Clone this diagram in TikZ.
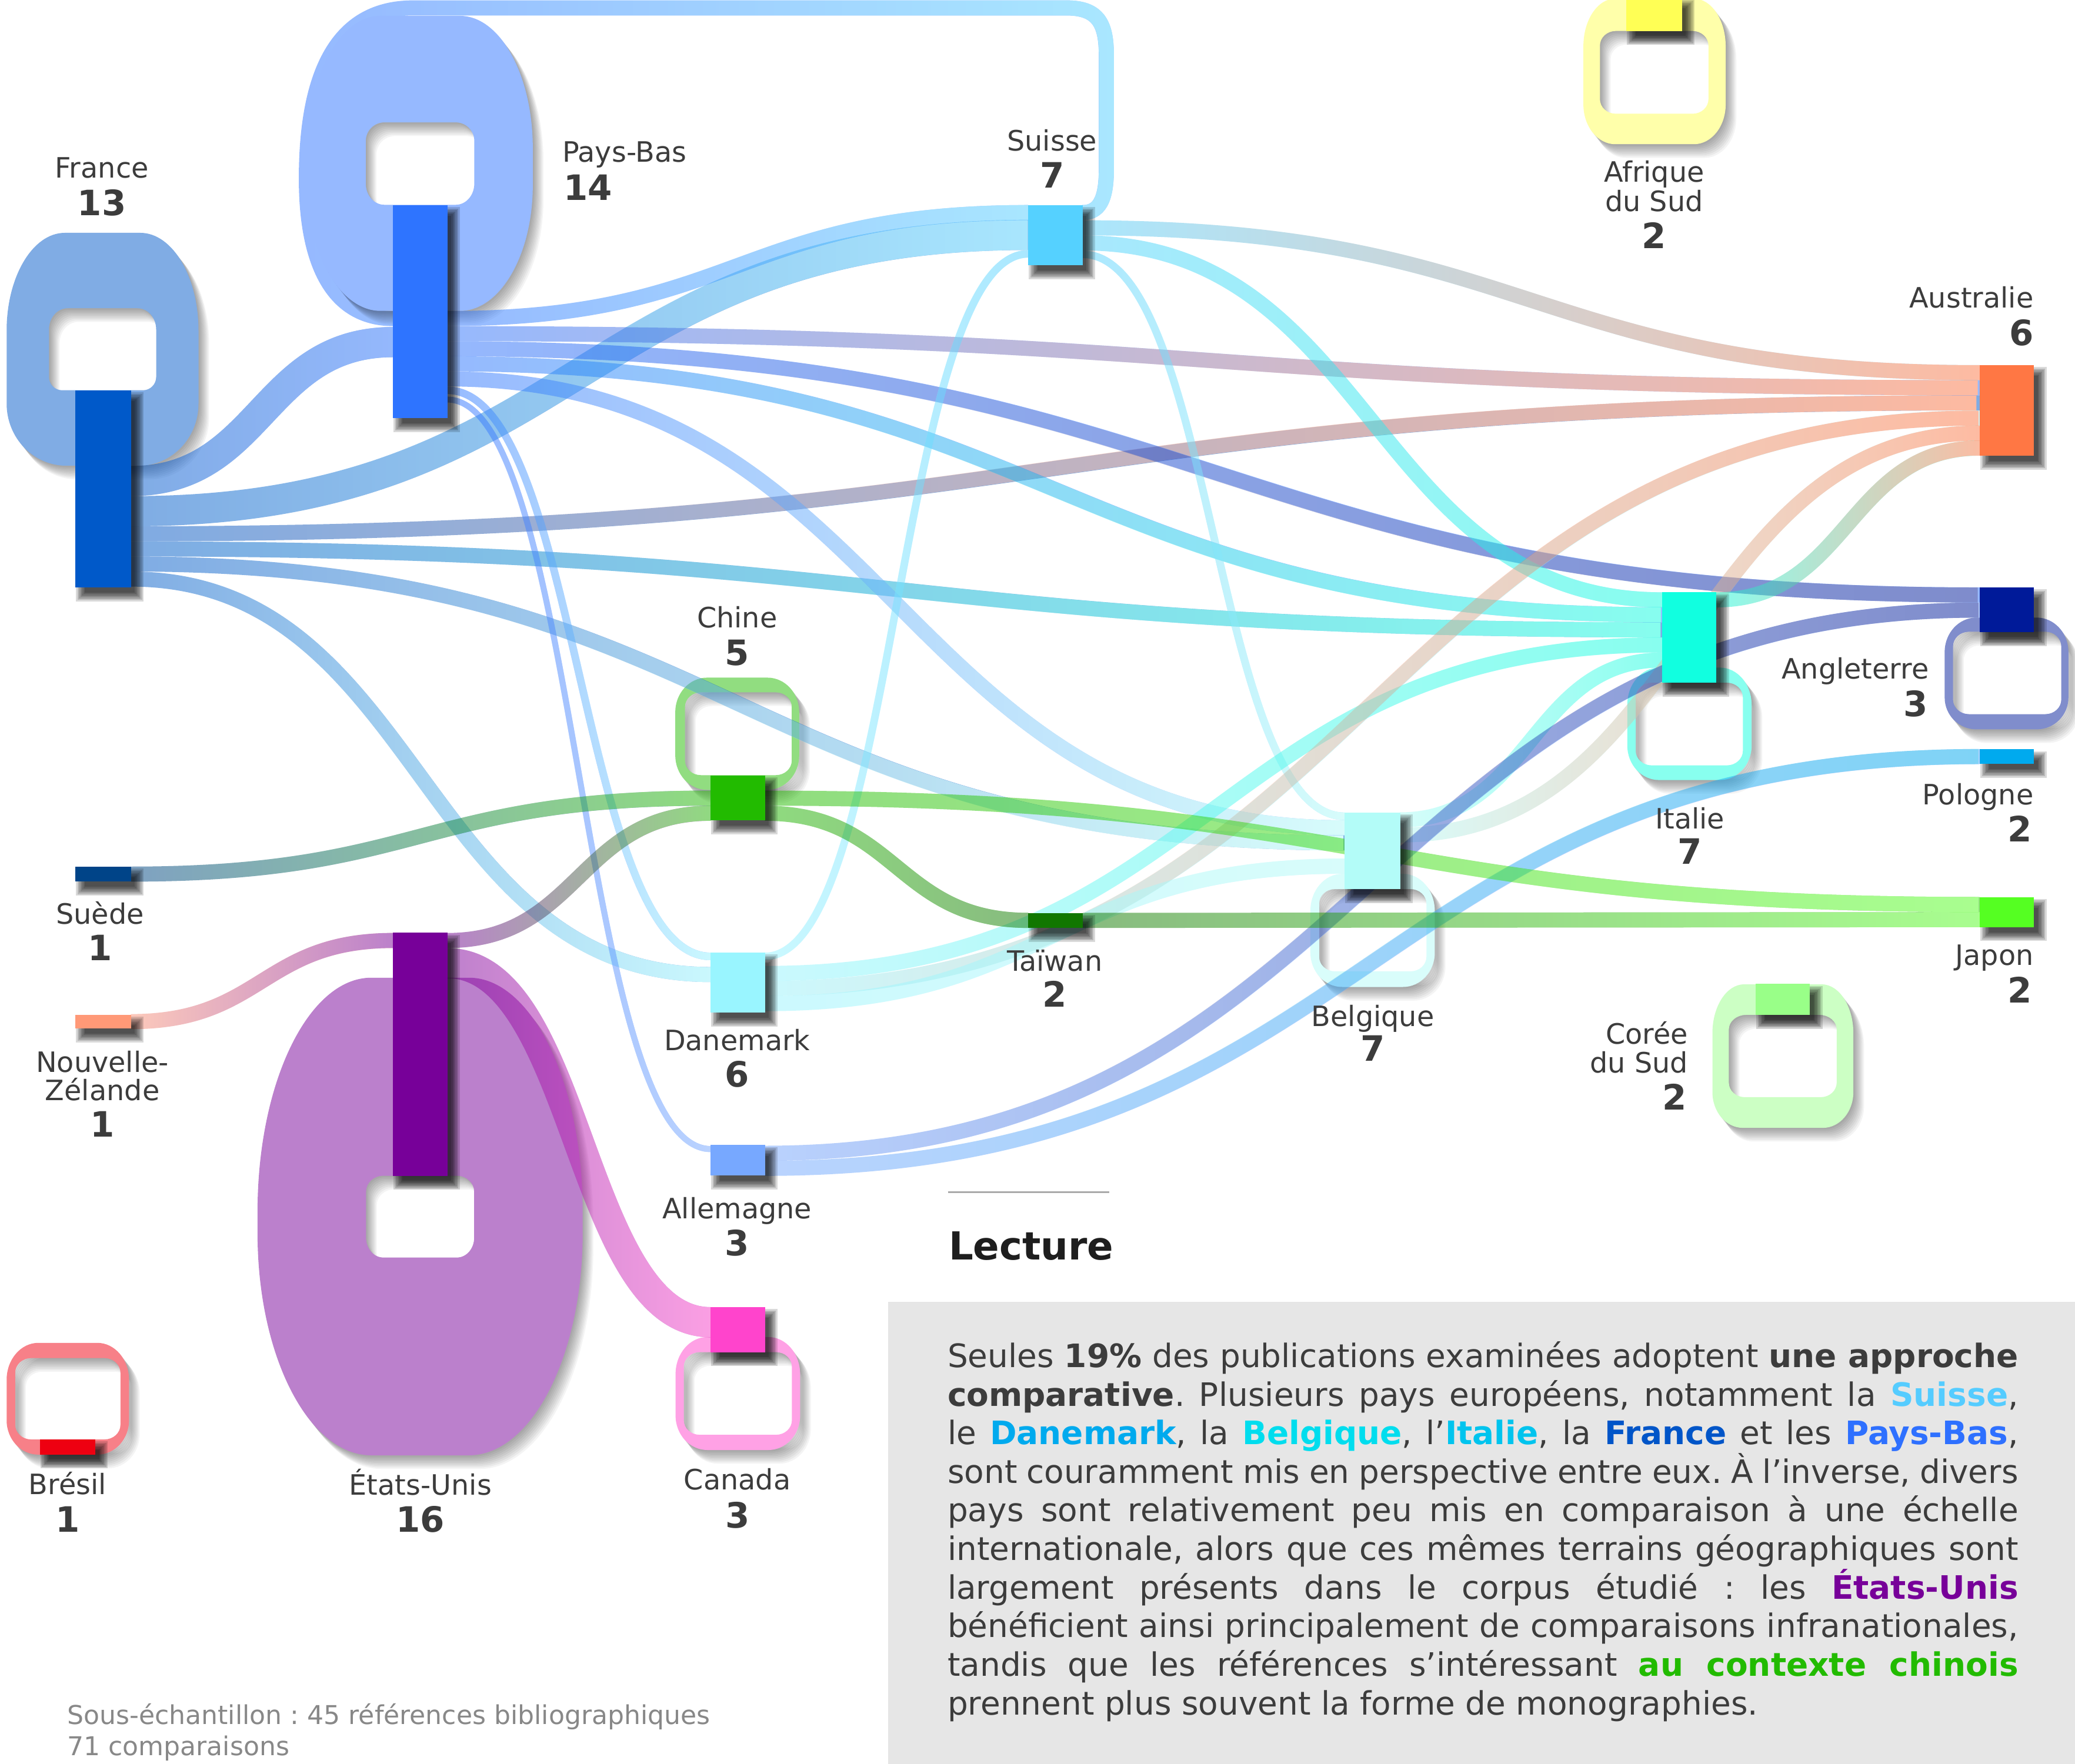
\documentclass[tikz,border=0pt]{standalone}
\usepackage{fontspec}
\setmainfont{DejaVu Sans}
\usetikzlibrary{fadings}
\tikzfading[name=fadeLR, left color=transparent!100, right color=transparent!0]
\definecolor{cFR}{HTML}{0059C9}
\definecolor{cPB}{HTML}{2E74FF}
\definecolor{cCH}{HTML}{55D1FF}
\definecolor{cZA}{HTML}{FFFF55}
\definecolor{cAU}{HTML}{FF7744}
\definecolor{cEN}{HTML}{001A99}
\definecolor{cPL}{HTML}{00AAEE}
\definecolor{cJP}{HTML}{55FF22}
\definecolor{cKR}{HTML}{99FF88}
\definecolor{cIT}{HTML}{11FFE0}
\definecolor{cBE}{HTML}{B3FCF8}
\definecolor{cCN}{HTML}{22BB00}
\definecolor{cTW}{HTML}{117700}
\definecolor{cDK}{HTML}{99F5FF}
\definecolor{cDE}{HTML}{77A8FF}
\definecolor{cSE}{HTML}{004488}
\definecolor{cNZ}{HTML}{FF9977}
\definecolor{cUS}{HTML}{770099}
\definecolor{cCA}{HTML}{FF44CC}
\definecolor{cBR}{HTML}{EE0011}
\definecolor{txt}{HTML}{3C3C3C}
\definecolor{boxgray}{HTML}{E6E6E6}
\definecolor{footgray}{HTML}{888888}
\definecolor{lecturec}{HTML}{1E1E1E}
\definecolor{rulegray}{HTML}{AAAAAA}
\definecolor{tCH}{HTML}{55CCFF}
\definecolor{tDK}{HTML}{00AAEE}
\definecolor{tBE}{HTML}{00DDEE}
\definecolor{tIT}{HTML}{00C4EE}
\definecolor{tFR}{HTML}{0055C8}
\definecolor{tPB}{HTML}{2E70FF}
\definecolor{tUS}{HTML}{770099}
\definecolor{tCN}{HTML}{22BB00}
\newlength\PW
\setlength\PW{404.6pt}
% rounded rectangle path with elliptic corners: x1 y1 x2 y2 rxTop ryTop rxBottom ryBottom
\newcommand\rrp[8]{({#1+#5},#2) -- ({#3-#5},#2) .. controls ({#3-0.448*#5},#2) and (#3,{#2+0.448*#6}) .. (#3,{#2+#6}) -- (#3,{#4-#8}) .. controls (#3,{#4-0.448*#8}) and ({#3-0.448*#7},#4) .. ({#3-#7},#4) -- ({#1+#7},#4) .. controls ({#1+0.448*#7},#4) and (#1,{#4-0.448*#8}) .. (#1,{#4-#8}) -- (#1,{#2+#6}) .. controls (#1,{#2+0.448*#6}) and ({#1+0.448*#5},#2) .. ({#1+#5},#2) -- cycle}
% self-loop ring with soft shadow
\newcommand\ringx[3]{%
  \foreach \s in {1,...,9}{\fill[black, fill opacity=0.045, even odd rule, shift={({0.9*\s},{1.15*\s})}] #2 #3;}
  \fill[#1!50, even odd rule] #2 #3;}
% sankey link: colA colB width x1 y1 x2 y2
\newcommand\lk[7]{%
  \pgfmathsetmacro\xm{(#4+#6)/2}%
  \begin{scope}[transparency group, opacity=0.5]
    \draw[line width=#3*0.5pt, draw=#1] (#4,#5) .. controls (\xm,#5) and (\xm,#7) .. (#6,#7);
    \draw[line width=#3*0.5pt, draw=#2, path fading=fadeLR] (#4,#5) .. controls (\xm,#5) and (\xm,#7) .. (#6,#7) (#4,{#5-40}) (#4,{#5+40}) (#6,{#7-40}) (#6,{#7+40});
  \end{scope}}
\newcommand\lkp[4]{%
  \begin{scope}[transparency group, opacity=0.5]
    \draw[line width=#3*0.5pt, draw=#1] #4;
    \draw[line width=#3*0.5pt, draw=#2, path fading=fadeLR] #4;
  \end{scope}}
% node rectangle with soft shadow: name colour x1 y1 x2 y2
\newcommand\nd[6]{%
  \foreach \s in {0,...,6}{\fill[black, fill opacity=0.15] ({#3+0.5+1.1*\s},{#4+1.5+1.1*\s}) rectangle ({#5+9.5-1.1*\s},{#6+10.5-1.1*\s});}
  \node[inner sep=0pt, outer sep=0pt, fill=#2, minimum width={(#5-#3)*0.5pt}, minimum height={(#6-#4)*0.5pt}] (#1) at ({(#3+#5)/2},{(#4+#6)/2}) {};}
\tikzset{
  lab/.style={inner sep=0pt, font=\fontsize{10.6}{12}\selectfont, text=txt},
  num/.style={inner sep=0pt, font=\fontsize{13.2}{15}\selectfont\bfseries, text=txt},
  para/.style={inner sep=0pt, anchor=base west, font=\fontsize{12.2}{14.6}\selectfont\frenchspacing, text=txt},
  foot/.style={inner sep=0pt, anchor=base west, font=\fontsize{9.8}{11}\selectfont\frenchspacing, text=footgray}
}
\begin{document}
\begin{tikzpicture}[x=0.5pt, y=-0.5pt]
\useasboundingbox (0,0) rectangle (1568,1333.33);
\fill[white] (0,0) rectangle (1568,1333.33);
% text box
\fill[boxgray] (671,983.8) rectangle (1568,1333.33);

% Pays-Bas -- Suisse link going round the Pays-Bas loop (under the loop)
\lkp{cPB}{cCH}{11.4}{(297,240.8) .. controls (255,240.8) and (231.5,205) .. (231.5,135) .. controls (231.5,50) and (258,6) .. (312,6) -- (806,6) .. controls (830,6) and (836,18) .. (836,42) -- (836,128) .. controls (836,152) and (830,160.7) .. (818,160.7)}

% ---------- self-loop rings ----------
\ringx{cFR}{\rrp{5}{176}{150}{352}{44}{74}{45}{47}}{\rrp{37}{233}{118}{295}{14}{16}{10}{10}}
\ringx{cPB}{\rrp{232.6}{12}{402.6}{235}{55}{100}{55}{95}}{\rrp{276.4}{92.5}{358.4}{154.8}{14}{14}{14}{16}}
\ringx{cZA}{\rrp{1196.5}{-1}{1304}{109}{24}{36}{24}{30}}{\rrp{1209}{23.4}{1291}{86}{12}{11}{12}{11}}
\ringx{cEN}{\rrp{1469.5}{466.8}{1563}{551.3}{24}{26}{24}{24}}{\rrp{1475.8}{477.5}{1557.6}{539.8}{12}{11}{12}{11}}
\ringx{cIT}{\rrp{1229.7}{504.6}{1323.6}{589.6}{24}{28}{24}{26}}{\rrp{1236}{516}{1317}{578.5}{12}{11}{12}{11}}
\ringx{cBE}{\rrp{990.2}{660.5}{1084.2}{746}{24}{28}{24}{26}}{\rrp{996.8}{672}{1077.9}{734.2}{12}{11}{12}{11}}
\ringx{cCN}{\rrp{510.3}{512.2}{603.9}{597}{24}{26}{24}{26}}{\rrp{517.6}{523.3}{598.3}{585.9}{12}{11}{12}{11}}
\ringx{cKR}{\rrp{1294}{744}{1400.5}{852.5}{24}{37}{23}{27}}{\rrp{1306.4}{767.1}{1387.9}{829.3}{13}{11}{12}{11}}
\ringx{cUS}{\rrp{194.6}{739}{440.3}{1100}{86}{177}{86}{168}}{\rrp{276.6}{888.7}{358.3}{950.5}{13}{12}{13}{15}}
\ringx{cCA}{\rrp{510.5}{1010.6}{604.6}{1096}{24}{28}{24}{26}}{\rrp{516.7}{1022}{598.4}{1084.5}{12}{11}{12}{11}}
\ringx{cBR}{\rrp{5}{1015}{97.5}{1099.5}{24}{28}{24}{26}}{\rrp{11.5}{1026.5}{91}{1088}{12}{11}{12}{11}}

% ---------- links ----------
\lk{cFR}{cPB}{22.8}{99}{363.6}{297}{258.6}
\lk{cFR}{cCH}{22.8}{99}{386.4}{777}{177.6}
\lk{cFR}{cAU}{11.4}{99}{403.5}{1496}{304.5}
\lk{cFR}{cIT}{11.4}{99}{414.9}{1256}{476.1}
\lk{cFR}{cBE}{11.4}{99}{426.3}{1016}{637.1}
\lk{cFR}{cDK}{11.4}{99}{437.7}{537}{736.6}
\lk{cPB}{cCH}{11.4}{338}{240.8}{777}{160.7}
\lk{cPB}{cAU}{11.4}{338}{252.2}{1496}{293.1}
\lk{cPB}{cEN}{11.4}{338}{263.6}{1496}{449.7}
\lk{cPB}{cIT}{11.4}{338}{275}{1256}{464.7}
\lk{cPB}{cBE}{11.4}{338}{286.4}{1016}{625.7}
\lk{cPB}{cDK}{5.7}{338}{295}{537}{722.9}
\lk{cPB}{cDE}{4.5}{338}{302}{537}{868.5}
\lk{cDK}{cCH}{5.7}{578}{722.9}{777}{191.9}
\lk{cCH}{cAU}{11.4}{818}{172.2}{1496}{281.7}
\lk{cCH}{cIT}{11.4}{818}{183.6}{1256}{453.4}
\lk{cCH}{cBE}{5.7}{818}{192.2}{1016}{617}
\lk{cDK}{cIT}{11.4}{578}{735.8}{1256}{487.5}
\lk{cDK}{cAU}{11.4}{578}{747.2}{1496}{315.9}
\lk{cDK}{cBE}{11.4}{578}{758.6}{1016}{654.7}
\lk{cBE}{cIT}{11.4}{1058}{619.7}{1256}{498.9}
\lk{cBE}{cAU}{11.4}{1058}{631.1}{1496}{327.3}
\lk{cIT}{cAU}{11.4}{1297}{453.4}{1496}{338.7}
\lk{cDE}{cEN}{11.4}{578}{871.7}{1496}{461.1}
\lk{cDE}{cPL}{11.4}{578}{883.1}{1496}{571.9}
\lk{cSE}{cCN}{11.4}{99}{660.7}{537}{603.3}
\lk{cUS}{cCN}{11.4}{338}{710.9}{537}{614.7}
\lk{cCN}{cJP}{11.4}{578}{603.3}{1496}{683.7}
\lk{cCN}{cTW}{11.4}{578}{614.7}{777}{695.7}
\lk{cTW}{cJP}{11.4}{818}{695.7}{1496}{695.1}
\lk{cNZ}{cUS}{11.4}{99}{772.2}{297}{710.9}
\lk{cUS}{cCA}{22.8}{338}{728}{537}{999.4}

% ---------- country nodes ----------
\nd{fr}{cFR}{57}{295}{99}{444}
\nd{pb}{cPB}{297}{155}{338}{316}
\nd{ch}{cCH}{777}{155}{818}{200.5}
\nd{za}{cZA}{1229}{-2}{1271}{23.4}
\nd{au}{cAU}{1496}{276}{1537}{344.4}
\nd{en}{cEN}{1496}{444}{1537}{478}
\nd{pl}{cPL}{1496}{566.4}{1537}{577.4}
\nd{jp}{cJP}{1496}{678}{1537}{700.8}
\nd{kr}{cKR}{1326.7}{743.7}{1367.7}{767.1}
\nd{it}{cIT}{1256}{447.7}{1297}{516}
\nd{be}{cBE}{1016}{614}{1058}{672}
\nd{cn}{cCN}{537}{586}{578}{620}
\nd{tw}{cTW}{777}{690}{818}{701.4}
\nd{dk}{cDK}{537}{720}{578}{765.5}
\nd{de}{cDE}{537}{865.5}{578}{888.5}
\nd{se}{cSE}{57}{655}{99}{666.4}
\nd{nz}{cNZ}{57}{767}{99}{777.4}
\nd{us}{cUS}{297}{705}{338}{888.7}
\nd{ca}{cCA}{537}{988}{578}{1022}
\nd{br}{cBR}{30}{1088}{72}{1099.4}

% ---------- labels ----------
\node[lab, anchor=base] (lFR) at (77,134.4) {France};
\node[num, anchor=base] (nFR) at (77,163) {13};
\node[lab, anchor=base west] (lPB) at (424.5,122.6) {Pays-Bas};
\node[num, anchor=base west] (nPB) at (425.5,151.2) {14};
\node[lab, anchor=base] (lCH) at (795,114) {Suisse};
\node[num, anchor=base] (nCH) at (795,142) {7};
\node[lab, anchor=base] (lZA1) at (1250,137.5) {Afrique};
\node[lab, anchor=base] (lZA2) at (1250,160) {du Sud};
\node[num, anchor=base] (nZA) at (1250,188) {2};
\node[lab, anchor=base east] (lAU) at (1537,232.8) {Australie};
\node[num, anchor=base east] (nAU) at (1537,261) {6};
\node[lab, anchor=base east] (lEN) at (1458,513) {Angleterre};
\node[num, anchor=base east] (nEN) at (1457,541.7) {3};
\node[lab, anchor=base east] (lPL) at (1537,608.4) {Pologne};
\node[num, anchor=base east] (nPL) at (1536,636.4) {2};
\node[lab, anchor=base east] (lJP) at (1537,729.6) {Japon};
\node[num, anchor=base east] (nJP) at (1536,758) {2};
\node[lab, anchor=base east] (lKR1) at (1276,789.3) {Corée};
\node[lab, anchor=base east] (lKR2) at (1276,811) {du Sud};
\node[num, anchor=base east] (nKR) at (1275,839) {2};
\node[lab, anchor=base] (lIT) at (1277,626.4) {Italie};
\node[num, anchor=base] (nIT) at (1277,653) {7};
\node[lab, anchor=base] (lBE) at (1037.4,775.6) {Belgique};
\node[num, anchor=base] (nBE) at (1037.4,802.2) {7};
\node[lab, anchor=base] (lCN) at (557,474.6) {Chine};
\node[num, anchor=base] (nCN) at (557,503) {5};
\node[lab, anchor=base] (lTW) at (797,734) {Taïwan};
\node[num, anchor=base] (nTW) at (797,760.9) {2};
\node[lab, anchor=base] (lDK) at (557,794) {Danemark};
\node[num, anchor=base] (nDK) at (557,821.7) {6};
\node[lab, anchor=base] (lDE) at (557,921.2) {Allemagne};
\node[num, anchor=base] (nDE) at (557,948.9) {3};
\node[lab, anchor=base] (lSE) at (75.5,698.3) {Suède};
\node[num, anchor=base] (nSE) at (75.5,725.9) {1};
\node[lab, anchor=base] (lNZ1) at (77.4,810.6) {Nouvelle-};
\node[lab, anchor=base] (lNZ2) at (77.4,831.6) {Zélande};
\node[num, anchor=base] (nNZ) at (77.4,859.3) {1};
\node[lab, anchor=base] (lUS) at (317.7,1129.8) {États-Unis};
\node[num, anchor=base] (nUS) at (317.7,1158) {16};
\node[lab, anchor=base] (lCA) at (557.2,1126) {Canada};
\node[num, anchor=base] (nCA) at (557.2,1154.7) {3};
\node[lab, anchor=base] (lBR) at (51,1129.5) {Brésil};
\node[num, anchor=base] (nBR) at (51,1158) {1};

% ---------- reading note ----------
\coordinate (ruleA) at (716.3,901.2);
\coordinate (ruleB) at (838.2,901.2);
\draw[rulegray, line width=0.6pt] (ruleA) -- (ruleB);
\node[inner sep=0pt, anchor=base west, font=\fontsize{14.6}{17}\selectfont\bfseries, text=lecturec] (lect) at (716.5,952.1) {Lecture};

\node[para] (p1) at (715.6,1033.5) {\hbox to\PW{Seules \textbf{19\%} des publications examinées adoptent \textbf{une approche}}};
\node[para] (p2) at (715.6,1062.67) {\hbox to\PW{\textbf{comparative}. Plusieurs pays européens, notamment la \textbf{\color{tCH}Suisse},}};
\node[para] (p3) at (715.6,1091.84) {\hbox to\PW{le \textbf{\color{tDK}Danemark}, la \textbf{\color{tBE}Belgique}, l’\textbf{\color{tIT}Italie}, la \textbf{\color{tFR}France} et les \textbf{\color{tPB}Pays-Bas},}};
\node[para] (p4) at (715.6,1121.01) {\hbox to\PW{sont couramment mis en perspective entre eux. À l’inverse, divers}};
\node[para] (p5) at (715.6,1150.18) {\hbox to\PW{pays sont relativement peu mis en comparaison à une échelle}};
\node[para] (p6) at (715.6,1179.35) {\hbox to\PW{internationale, alors que ces mêmes terrains géographiques sont}};
\node[para] (p7) at (715.6,1208.52) {\hbox to\PW{largement présents dans le corpus étudié : les \textbf{\color{tUS}États-Unis}}};
\node[para] (p8) at (715.6,1237.69) {\hbox to\PW{bénéficient ainsi principalement de comparaisons infranationales,}};
\node[para] (p9) at (715.6,1266.86) {\hbox to\PW{tandis que les références s’intéressant \textbf{\color{tCN}au contexte chinois}}};
\node[para] (p10) at (715.6,1296.03) {prennent plus souvent la forme de monographies.};

\node[foot] (f1) at (50.5,1303.4) {Sous-échantillon : 45 références bibliographiques};
\node[foot] (f2) at (50.5,1327) {71 comparaisons};
\end{tikzpicture}
\end{document}
